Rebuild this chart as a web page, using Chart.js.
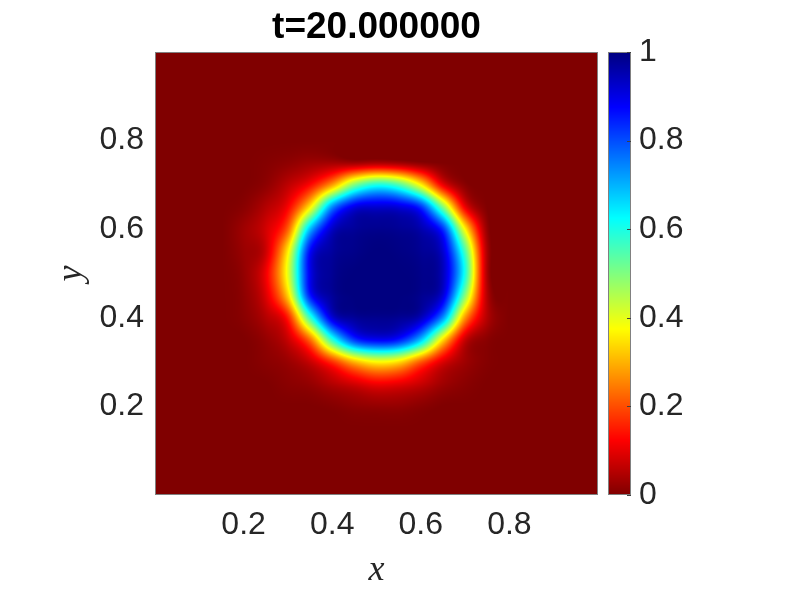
<!DOCTYPE html>
<html>
<head>
<meta charset="utf-8">
<script src="https://cdn.jsdelivr.net/npm/chart.js@4.4.0/dist/chart.umd.min.js"></script>
<style>
  body { margin: 0; background: #fff; }
  #wrap { position: relative; width: 789px; height: 592px; }
  #main { position: absolute; left: 0; top: 0; }
  #bar { position: absolute; left: 608px; top: 0; }
</style>
</head>
<body>
<div id="wrap">
  <canvas id="main" width="789" height="592"></canvas>
  <canvas id="bar" width="181" height="592"></canvas>
</div>
<script>
const titleText = 't=20.000000';
const xTicks = [0.2, 0.4, 0.6, 0.8];
const yTicks = [0.2, 0.4, 0.6, 0.8];
const barTicks = [0, 0.2, 0.4, 0.6, 0.8, 1];

const xNodes = [0.2, 0.25, 0.3, 0.35, 0.4, 0.45, 0.5, 0.55, 0.6, 0.65, 0.7, 0.75, 0.8];
const yNodes = [0.8, 0.75, 0.7, 0.65, 0.6, 0.55, 0.5, 0.45, 0.4, 0.35, 0.3, 0.25, 0.2];
const field = [
  [0, 0, 0, 0, 0, 0, 0, 0, 0, 0, 0, 0, 0],
  [0, 0.005, 0.015, 0.03, 0.035, 0.03, 0.04, 0.03, 0.01, 0, 0, 0, 0],
  [0, 0.015, 0.06, 0.13, 0.28, 0.50, 0.60, 0.55, 0.37, 0.11, 0.01, 0, 0],
  [0.01, 0.05, 0.12, 0.36, 0.74, 0.90, 0.92, 0.91, 0.83, 0.50, 0.11, 0, 0],
  [0.03, 0.08, 0.22, 0.69, 0.93, 0.975, 0.985, 0.98, 0.955, 0.83, 0.37, 0.02, 0],
  [0.025, 0.075, 0.36, 0.87, 0.97, 0.99, 1, 0.995, 0.98, 0.92, 0.55, 0.04, 0],
  [0.02, 0.11, 0.40, 0.89, 0.98, 1, 1, 1, 0.99, 0.94, 0.60, 0.04, 0],
  [0.015, 0.09, 0.33, 0.85, 0.975, 1, 1, 1, 0.985, 0.91, 0.49, 0.05, 0],
  [0.01, 0.05, 0.15, 0.57, 0.91, 0.975, 0.985, 0.98, 0.94, 0.73, 0.27, 0.05, 0],
  [0, 0.02, 0.07, 0.23, 0.58, 0.82, 0.88, 0.85, 0.68, 0.34, 0.07, 0.01, 0],
  [0, 0.01, 0.025, 0.07, 0.17, 0.30, 0.37, 0.34, 0.21, 0.09, 0.03, 0.005, 0],
  [0, 0, 0.01, 0.02, 0.05, 0.08, 0.11, 0.10, 0.07, 0.03, 0.01, 0, 0],
  [0, 0, 0, 0, 0.005, 0.015, 0.02, 0.02, 0.01, 0, 0, 0, 0]
];

const fontSans = "'Liberation Sans', Arial, Helvetica, sans-serif";
const fontMath = "'Liberation Serif', 'DejaVu Serif', serif";
const textColor = '#262626';

// flipped jet: 0 -> dark red, 1 -> dark blue
function jet(v) {
    const t = 1 - Math.min(1, Math.max(0, v));
    const c = x => Math.round(255 * Math.min(1, Math.max(0, x)));
    return [c(Math.min(4 * t - 1.5, -4 * t + 4.5)),
            c(Math.min(4 * t - 0.5, -4 * t + 3.5)),
            c(Math.min(4 * t + 0.5, -4 * t + 2.5))];
}

function nodeValue(i, j) {
    if (i < 0 || j < 0 || i >= xNodes.length || j >= yNodes.length) return 0;
    return field[j][i];
}

function cubic(p0, p1, p2, p3, t) {
    return p1 + 0.5 * t * (p2 - p0 + t * (2 * p0 - 5 * p1 + 4 * p2 - p3 + t * (3 * (p1 - p2) + p3 - p0)));
}

function sample(x, y) {
    const fx = (x - xNodes[0]) / (xNodes[1] - xNodes[0]);
    const fy = (yNodes[0] - y) / (yNodes[0] - yNodes[1]);
    if (fx < -2 || fy < -2 || fx > xNodes.length + 1 || fy > yNodes.length + 1) return 0;
    const i = Math.floor(fx), j = Math.floor(fy);
    const tx = fx - i, ty = fy - j;
    const rows = [];
    for (let m = -1; m <= 2; m++) {
        rows.push(cubic(nodeValue(i - 1, j + m), nodeValue(i, j + m),
                        nodeValue(i + 1, j + m), nodeValue(i + 2, j + m), tx));
    }
    return Math.min(1, Math.max(0, cubic(rows[0], rows[1], rows[2], rows[3], ty)));
}

const heatmap = {
    id: 'heatmap',
    beforeDatasetsDraw(chart) {
        const {ctx, chartArea: a, scales: {x, y}} = chart;
        const w = Math.round(a.right - a.left), h = Math.round(a.bottom - a.top);
        const off = document.createElement('canvas');
        off.width = w; off.height = h;
        const octx = off.getContext('2d');
        const img = octx.createImageData(w, h);
        for (let py = 0; py < h; py++) {
            const yv = y.getValueForPixel(a.top + py + 0.5);
            for (let px = 0; px < w; px++) {
                const xv = x.getValueForPixel(a.left + px + 0.5);
                const c = jet(sample(xv, yv));
                const k = (py * w + px) * 4;
                img.data[k] = c[0]; img.data[k + 1] = c[1]; img.data[k + 2] = c[2]; img.data[k + 3] = 255;
            }
        }
        octx.putImageData(img, 0, 0);
        ctx.drawImage(off, a.left, a.top);
        ctx.save();
        ctx.strokeStyle = '#808080';
        ctx.lineWidth = 1;
        ctx.strokeRect(a.left + 0.5, a.top + 0.5, w - 1, h - 1);
        ctx.restore();
    },
    afterDraw(chart) {
        const {ctx, chartArea: a} = chart;
        ctx.save();
        ctx.font = 'bold 37px ' + fontSans;
        ctx.fillStyle = '#000';
        ctx.textAlign = 'center';
        ctx.textBaseline = 'middle';
        ctx.fillText(titleText, (a.left + a.right) / 2, 28);
        ctx.restore();
    }
};

const colorbar = {
    id: 'colorbar',
    beforeDatasetsDraw(chart) {
        const {ctx, chartArea: a, scales: {y}} = chart;
        for (let py = Math.floor(a.top); py < a.bottom; py++) {
            const c = jet(y.getValueForPixel(py + 0.5));
            ctx.fillStyle = 'rgb(' + c.join(',') + ')';
            ctx.fillRect(a.left, py, a.right - a.left, 1);
        }
        ctx.save();
        ctx.strokeStyle = '#808080';
        ctx.lineWidth = 1;
        ctx.strokeRect(a.left + 0.5, a.top + 0.5, a.right - a.left - 1, a.bottom - a.top - 1);
        ctx.strokeStyle = '#404040';
        barTicks.forEach(v => {
            const py = Math.round(y.getPixelForValue(v)) + 0.5;
            ctx.beginPath();
            ctx.moveTo(a.right - 4, py);
            ctx.lineTo(a.right, py);
            ctx.stroke();
        });
        ctx.restore();
    }
};

new Chart(document.getElementById('main'), {
    type: 'scatter',
    data: { datasets: [] },
    options: {
        responsive: false,
        animation: false,
        layout: { padding: { top: 52, right: 191, left: 0, bottom: 0 } },
        plugins: { legend: { display: false }, tooltip: { enabled: false } },
        scales: {
            x: {
                type: 'linear', min: 0, max: 1,
                grid: { display: false, drawTicks: false }, border: { display: false },
                afterBuildTicks: s => { s.ticks = xTicks.map(v => ({ value: v })); },
                afterFit: s => { s.height = 97; },
                ticks: { font: { family: fontSans, size: 32 }, color: textColor, padding: 11, maxRotation: 0,
                         callback: v => String(v) },
                title: { display: true, text: 'x', color: textColor,
                         font: { family: fontMath, size: 36, style: 'italic' }, padding: { top: 0, bottom: 0 } }
            },
            y: {
                type: 'linear', min: 0, max: 1,
                grid: { display: false, drawTicks: false }, border: { display: false },
                afterBuildTicks: s => { s.ticks = yTicks.map(v => ({ value: v })); },
                afterFit: s => { s.width = 155; },
                ticks: { font: { family: fontSans, size: 32 }, color: textColor, padding: 11,
                         callback: v => String(v) },
                title: { display: true, text: 'y', color: textColor,
                         font: { family: fontMath, size: 36, style: 'italic' }, padding: { top: 50, bottom: 0 } }
            }
        }
    },
    plugins: [heatmap]
});

new Chart(document.getElementById('bar'), {
    type: 'scatter',
    data: { datasets: [] },
    options: {
        responsive: false,
        animation: false,
        layout: { padding: { top: 52, bottom: 97, left: 0, right: 0 } },
        plugins: { legend: { display: false }, tooltip: { enabled: false } },
        scales: {
            x: { type: 'linear', display: false, min: 0, max: 1 },
            y: {
                type: 'linear', position: 'right', min: 0, max: 1,
                grid: { display: false, drawTicks: false }, border: { display: false },
                afterBuildTicks: s => { s.ticks = barTicks.map(v => ({ value: v })); },
                afterFit: s => { s.width = 158; },
                ticks: { font: { family: fontSans, size: 32 }, color: textColor, padding: 8,
                         callback: v => String(v) }
            }
        }
    },
    plugins: [colorbar]
});
</script>
</body>
</html>
